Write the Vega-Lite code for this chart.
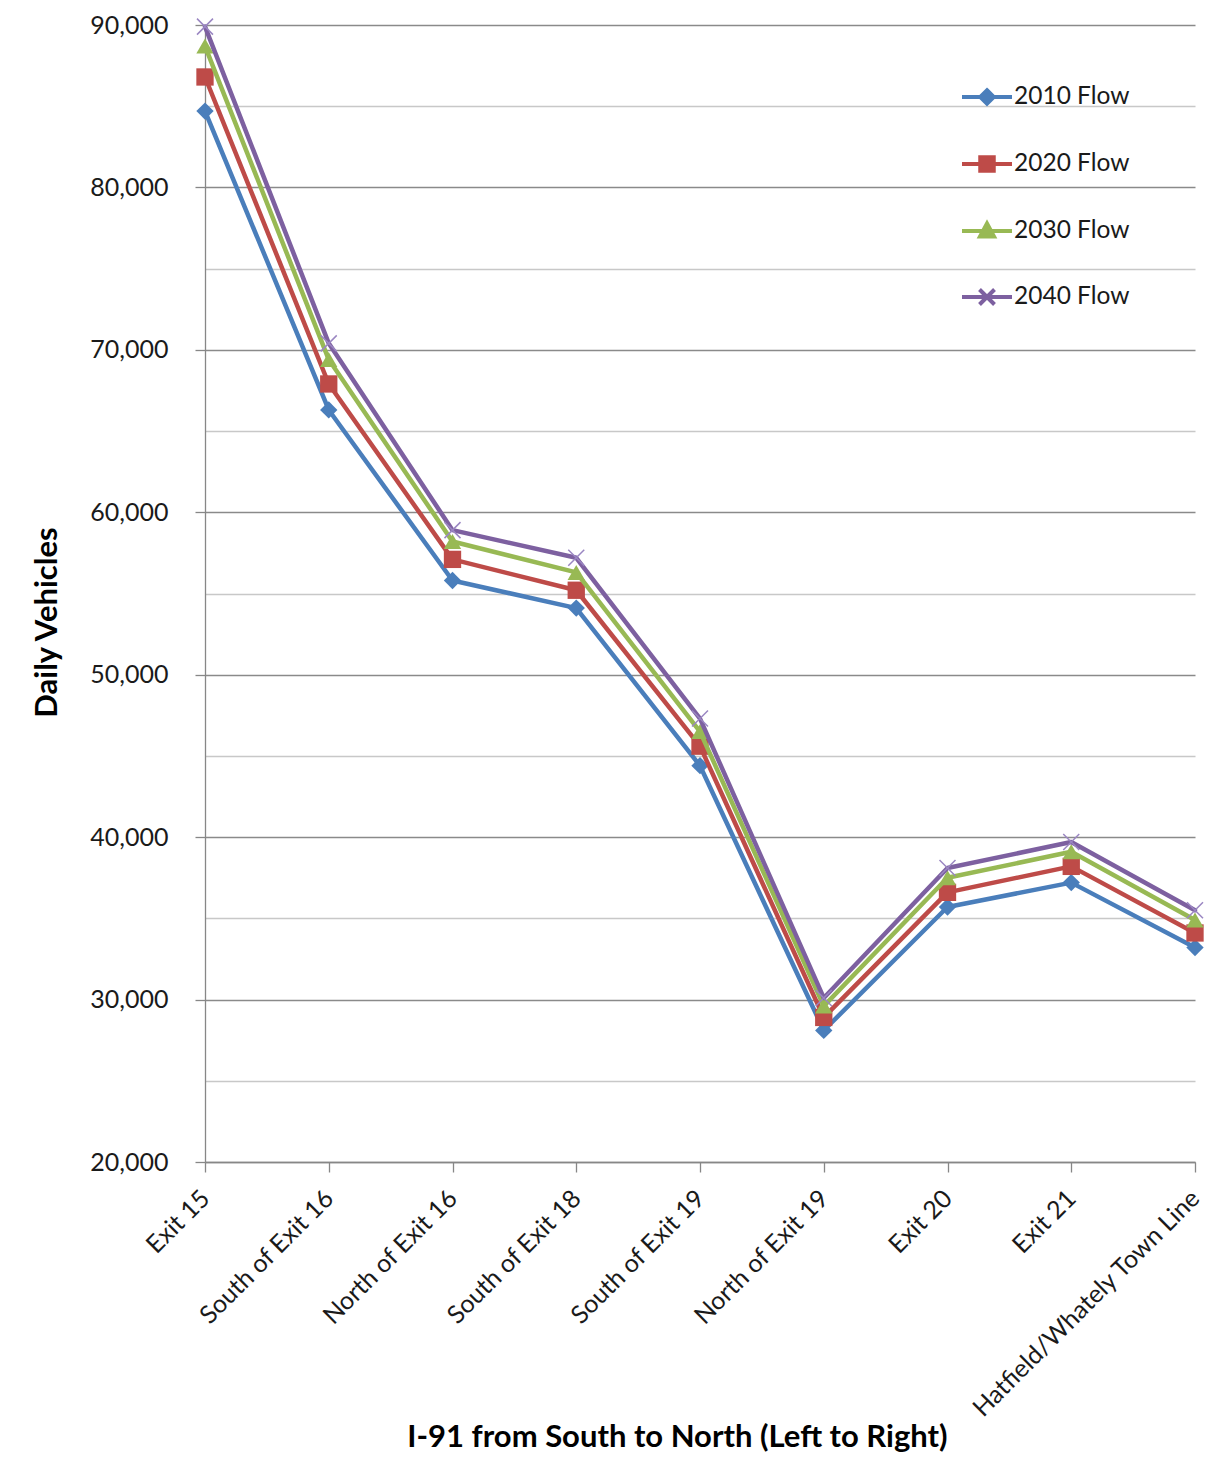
{
  "$schema": "https://vega.github.io/schema/vega-lite/v6.json",
  "width": 990,
  "height": 1137,
  "autosize": {"type": "none"},
  "padding": {"left": 205, "top": 25, "right": 36, "bottom": 319},
  "background": "white",
  "config": {
    "view": {"stroke": null},
    "font": "Lato"
  },
  "data": {
    "values": [
      {"location": "Exit 15", "series": "2010 Flow", "vehicles": 84700},
      {"location": "South of Exit 16", "series": "2010 Flow", "vehicles": 66300},
      {"location": "North of Exit 16", "series": "2010 Flow", "vehicles": 55800},
      {"location": "South of Exit 18", "series": "2010 Flow", "vehicles": 54100},
      {"location": "South of Exit 19", "series": "2010 Flow", "vehicles": 44400},
      {"location": "North of Exit 19", "series": "2010 Flow", "vehicles": 28100},
      {"location": "Exit 20", "series": "2010 Flow", "vehicles": 35700},
      {"location": "Exit 21", "series": "2010 Flow", "vehicles": 37200},
      {"location": "Hatfield/Whately Town Line", "series": "2010 Flow", "vehicles": 33200},

      {"location": "Exit 15", "series": "2020 Flow", "vehicles": 86800},
      {"location": "South of Exit 16", "series": "2020 Flow", "vehicles": 67900},
      {"location": "North of Exit 16", "series": "2020 Flow", "vehicles": 57100},
      {"location": "South of Exit 18", "series": "2020 Flow", "vehicles": 55200},
      {"location": "South of Exit 19", "series": "2020 Flow", "vehicles": 45600},
      {"location": "North of Exit 19", "series": "2020 Flow", "vehicles": 28900},
      {"location": "Exit 20", "series": "2020 Flow", "vehicles": 36600},
      {"location": "Exit 21", "series": "2020 Flow", "vehicles": 38200},
      {"location": "Hatfield/Whately Town Line", "series": "2020 Flow", "vehicles": 34100},

      {"location": "Exit 15", "series": "2030 Flow", "vehicles": 88700},
      {"location": "South of Exit 16", "series": "2030 Flow", "vehicles": 69400},
      {"location": "North of Exit 16", "series": "2030 Flow", "vehicles": 58200},
      {"location": "South of Exit 18", "series": "2030 Flow", "vehicles": 56300},
      {"location": "South of Exit 19", "series": "2030 Flow", "vehicles": 46500},
      {"location": "North of Exit 19", "series": "2030 Flow", "vehicles": 29600},
      {"location": "Exit 20", "series": "2030 Flow", "vehicles": 37500},
      {"location": "Exit 21", "series": "2030 Flow", "vehicles": 39100},
      {"location": "Hatfield/Whately Town Line", "series": "2030 Flow", "vehicles": 34900},

      {"location": "Exit 15", "series": "2040 Flow", "vehicles": 89900},
      {"location": "South of Exit 16", "series": "2040 Flow", "vehicles": 70400},
      {"location": "North of Exit 16", "series": "2040 Flow", "vehicles": 58900},
      {"location": "South of Exit 18", "series": "2040 Flow", "vehicles": 57200},
      {"location": "South of Exit 19", "series": "2040 Flow", "vehicles": 47300},
      {"location": "North of Exit 19", "series": "2040 Flow", "vehicles": 30100},
      {"location": "Exit 20", "series": "2040 Flow", "vehicles": 38100},
      {"location": "Exit 21", "series": "2040 Flow", "vehicles": 39700},
      {"location": "Hatfield/Whately Town Line", "series": "2040 Flow", "vehicles": 35500}
    ]
  },
  "encoding": {
    "x": {
      "field": "location",
      "type": "nominal",
      "sort": null,
      "scale": {"type": "point", "padding": 0},
      "axis": {
        "title": "I-91 from South to North (Left to Right)",
        "labelAngle": -45,
        "labelAlign": "right",
        "labelBaseline": "middle",
        "labelPadding": 22,
        "labelFont": "Lato",
        "labelFontSize": 25,
        "labelColor": "#1a1a1a",
        "labelLimit": 500,
        "labelOverlap": false,
        "tickSize": 10,
        "tickColor": "#878787",
        "tickWidth": 1.3,
        "domainColor": "#878787",
        "domainWidth": 1.3,
        "grid": false,
        "titleFont": "Lato",
        "titleFontSize": 31,
        "titleFontWeight": "bold",
        "titleColor": "#000000",
        "titleX": 472,
        "titleY": 275,
        "titleAlign": "center",
        "titleBaseline": "middle"
      }
    },
    "y": {
      "field": "vehicles",
      "type": "quantitative",
      "scale": {"domain": [20000, 90000], "nice": false, "zero": false},
      "axis": {
        "title": "Daily Vehicles",
        "values": [20000, 25000, 30000, 35000, 40000, 45000, 50000, 55000, 60000, 65000, 70000, 75000, 80000, 85000, 90000],
        "format": ",d",
        "labelExpr": "datum.value % 10000 === 0 ? datum.label : ''",
        "labelFont": "Lato",
        "labelFontSize": 25,
        "labelColor": "#1a1a1a",
        "labelPadding": 27,
        "tickSize": 10,
        "tickColor": "#878787",
        "tickWidth": 1.3,
        "tickOpacity": {"condition": {"test": "datum.value % 10000 === 0", "value": 1}, "value": 0},
        "domainColor": "#878787",
        "domainWidth": 1.3,
        "grid": true,
        "gridWidth": 1.3,
        "gridColor": {"condition": {"test": "datum.value % 10000 === 0", "value": "#8a8a8a"}, "value": "#c8c8c8"},
        "titleFont": "Lato",
        "titleFontSize": 31,
        "titleFontWeight": "bold",
        "titleColor": "#000000",
        "titleX": -158,
        "titleY": 597,
        "titleAngle": -90,
        "titleAlign": "center",
        "titleBaseline": "middle"
      }
    },
    "color": {
      "field": "series",
      "type": "nominal",
      "scale": {
        "domain": ["2010 Flow", "2020 Flow", "2030 Flow", "2040 Flow"],
        "range": ["#4a7ebb", "#be4b48", "#98b954", "#7d60a0"]
      },
      "legend": {
        "title": null,
        "orient": "none",
        "legendX": 755,
        "legendY": 45,
        "symbolSize": 2500,
        "symbolStrokeWidth": 4,
        "rowPadding": 25,
        "labelFont": "Lato",
        "labelFontSize": 24.5,
        "labelColor": "#1a1a1a",
        "labelOffset": 0,
        "encode": {
          "symbols": {
            "update": {
              "shape": {"signal": "datum.value === '2010 Flow' ? 'M-1,0L1,0M0,-0.27L0.27,0L0,0.27L-0.27,0Z' : datum.value === '2020 Flow' ? 'M-1,0L1,0M-0.27,-0.27L0.27,-0.27L0.27,0.27L-0.27,0.27Z' : datum.value === '2030 Flow' ? 'M-1,0L1,0M0,-0.3L0.28,0.22L-0.28,0.22Z' : 'M-1,0L1,0M-0.3,-0.3L0.3,0.3M-0.3,0.3L0.3,-0.3'"},
              "fill": {"scale": "color", "field": "value"},
              "stroke": {"scale": "color", "field": "value"}
            }
          }
        }
      }
    }
  },
  "layer": [
    {
      "transform": [{"filter": "datum.series === '2010 Flow'"}],
      "mark": {"type": "line", "strokeWidth": 4.5, "strokeJoin": "round", "strokeCap": "round"}
    },
    {
      "transform": [{"filter": "datum.series === '2010 Flow'"}],
      "mark": {"type": "point", "shape": "diamond", "filled": true, "size": 300, "opacity": 1}
    },
    {
      "transform": [{"filter": "datum.series === '2020 Flow'"}],
      "mark": {"type": "line", "strokeWidth": 4.5, "strokeJoin": "round", "strokeCap": "round"}
    },
    {
      "transform": [{"filter": "datum.series === '2020 Flow'"}],
      "mark": {"type": "point", "shape": "square", "filled": true, "size": 300, "opacity": 1}
    },
    {
      "transform": [{"filter": "datum.series === '2030 Flow'"}],
      "mark": {"type": "line", "strokeWidth": 4.5, "strokeJoin": "round", "strokeCap": "round"}
    },
    {
      "transform": [{"filter": "datum.series === '2030 Flow'"}],
      "mark": {"type": "point", "shape": "triangle-up", "filled": true, "size": 300, "opacity": 1}
    },
    {
      "transform": [{"filter": "datum.series === '2040 Flow'"}],
      "mark": {"type": "line", "strokeWidth": 4.5, "strokeJoin": "round", "strokeCap": "round"}
    },
    {
      "transform": [{"filter": "datum.series === '2040 Flow'"}],
      "mark": {"type": "point", "shape": "M-1,-1L1,1M-1,1L1,-1", "filled": false, "size": 256, "strokeWidth": 1.5, "opacity": 1},
      "encoding": {"color": {"value": "#9a86c2"}}
    }
  ]
}
